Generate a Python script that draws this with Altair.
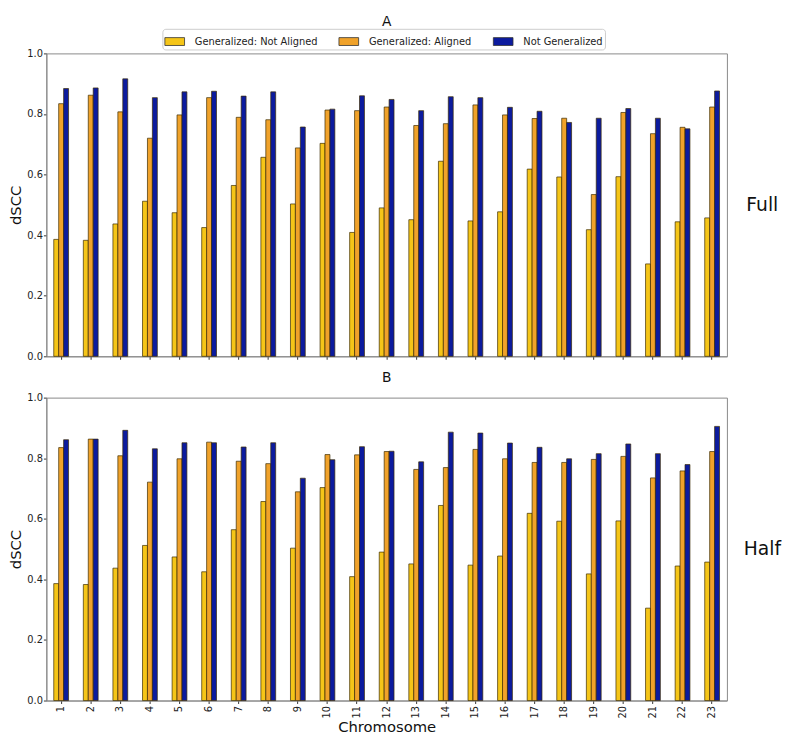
import altair as alt
import pandas as pd

chromosomes = [str(i) for i in range(1, 24)]
series = ["Generalized: Not Aligned", "Generalized: Aligned", "Not Generalized"]
colors = ["#F5C518", "#F0A22A", "#0C1B9E"]
panel_names = ["Full", "Half"]
panel_titles = ["A", "B"]

# Panel A (Full)
not_aligned_full = [0.386, 0.383, 0.437, 0.512, 0.474, 0.425, 0.564, 0.657, 0.503, 0.703, 0.409, 0.490,
                    0.451, 0.644, 0.447, 0.477, 0.618, 0.592, 0.418, 0.593, 0.305, 0.444, 0.457]
aligned_full = [0.834, 0.862, 0.807, 0.720, 0.797, 0.854, 0.789, 0.781, 0.688, 0.813, 0.811, 0.823,
                0.762, 0.768, 0.830, 0.797, 0.785, 0.786, 0.534, 0.805, 0.735, 0.756, 0.823]
not_gen_full = [0.884, 0.886, 0.916, 0.854, 0.873, 0.875, 0.859, 0.873, 0.757, 0.816, 0.860, 0.848,
                0.811, 0.857, 0.854, 0.822, 0.809, 0.772, 0.786, 0.818, 0.786, 0.751, 0.876]

# Panel B (Half)
not_aligned_half = [0.386, 0.383, 0.437, 0.512, 0.474, 0.425, 0.564, 0.657, 0.503, 0.703, 0.409, 0.490,
                    0.451, 0.644, 0.447, 0.477, 0.618, 0.592, 0.418, 0.593, 0.305, 0.444, 0.457]
aligned_half = [0.835, 0.863, 0.808, 0.721, 0.798, 0.853, 0.790, 0.782, 0.689, 0.812, 0.811, 0.822,
                0.763, 0.769, 0.829, 0.798, 0.786, 0.786, 0.796, 0.806, 0.735, 0.758, 0.822]
not_gen_half = [0.861, 0.863, 0.892, 0.831, 0.851, 0.851, 0.837, 0.851, 0.734, 0.795, 0.838, 0.823,
                0.788, 0.886, 0.883, 0.850, 0.836, 0.798, 0.815, 0.847, 0.815, 0.779, 0.905]

panel_data = {
    "Full": [not_aligned_full, aligned_full, not_gen_full],
    "Half": [not_aligned_half, aligned_half, not_gen_half],
}

rows = []
for p in panel_names:
    for s, vals in zip(series, panel_data[p]):
        for c, v in zip(chromosomes, vals):
            rows.append({"panel": p, "series": s, "chromosome": c, "value": v})
df = pd.DataFrame(rows)

FONT = "DejaVu Sans"
W = 692
H = 308

legend = alt.Legend(
    title=None, orient="none", direction="horizontal", legendX=118, legendY=-25,
    symbolType="M-1,-0.4H1V0.4H-1Z", symbolSize=400, symbolStrokeColor="#333333",
    symbolStrokeWidth=0.8, symbolOpacity=1, labelFontSize=10, labelFont=FONT, labelColor="#222222",
    columnPadding=19, labelOffset=10, padding=2, strokeColor="#cccccc", cornerRadius=3,
    fillColor="white",
)


def panel(idx):
    name = panel_names[idx]
    bottom = idx == 1
    data = df[df.panel == name]
    xaxis = alt.Axis(
        labels=bottom, title="Chromosome" if bottom else None, labelAngle=270,
        labelAlign="right", labelBaseline="middle", ticks=True, tickSize=3, labelPadding=2,
        titlePadding=2,
    )
    bars = alt.Chart(data).mark_bar(stroke="#3a2a00", strokeWidth=0.7).encode(
        x=alt.X("chromosome:N", sort=chromosomes,
                scale=alt.Scale(paddingInner=0.5, paddingOuter=0.25), axis=xaxis),
        xOffset=alt.XOffset("series:N", sort=series,
                            scale=alt.Scale(domain=series, paddingInner=0, paddingOuter=0)),
        y=alt.Y("value:Q", scale=alt.Scale(domain=[0, 1], nice=False),
                axis=alt.Axis(values=[0, 0.2, 0.4, 0.6, 0.8, 1.0], format=".1f", title="dSCC",
                              tickSize=3, labelPadding=1, titlePadding=3)),
        color=alt.Color("series:N", sort=series,
                        scale=alt.Scale(domain=series, range=colors), legend=legend),
    )
    label = alt.Chart(pd.DataFrame({"label": [name]})).mark_text(
        font=FONT, fontSize=19, align="center", baseline="middle", color="#111111"
    ).encode(text="label:N", x=alt.value(W + 36), y=alt.value(H / 2))
    return alt.layer(bars, label).properties(
        width=W, height=H,
        title=alt.TitleParams(text=panel_titles[idx], fontSize=14, font=FONT, fontWeight="normal",
                              anchor="middle", offset=20 if idx == 0 else 8, color="#111111"),
    )


chart = alt.vconcat(panel(0), panel(1), spacing=8).resolve_scale(color="shared").properties(
    padding={"left": 0, "top": 0, "right": 0, "bottom": 0}
).configure_view(stroke="#888888", strokeWidth=1).configure_axis(
    grid=False, domainColor="#888888", tickColor="#333333", labelColor="#222222",
    labelFont=FONT, titleFont=FONT, labelFontSize=10, titleFontSize=15,
    titleFontWeight="normal", titleColor="#111111",
)

chart.save("out.html", embed_options={"renderer": "svg", "actions": False})
